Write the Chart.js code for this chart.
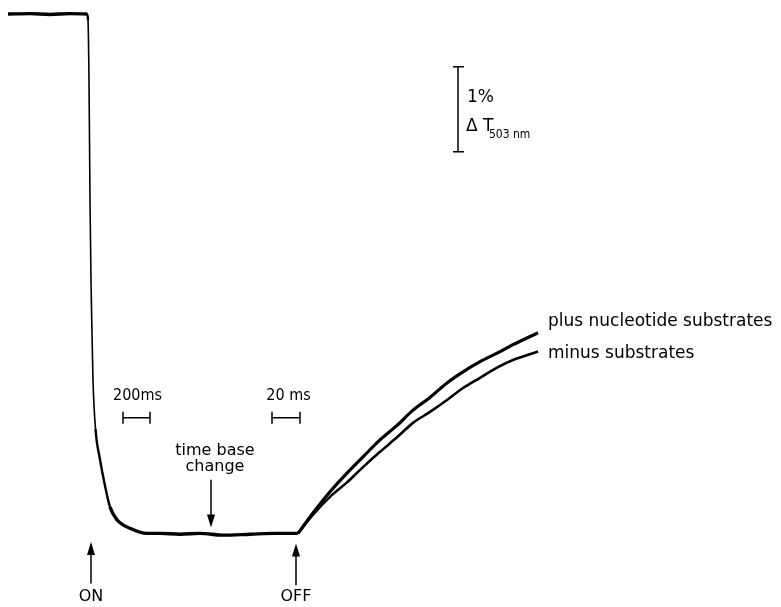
<!DOCTYPE html>
<html>
<head>
<meta charset="utf-8">
<script src="https://cdn.jsdelivr.net/npm/chart.js@4"></script>
<style>
  html, body { margin: 0; padding: 0; background: #fff; }
  #wrap { width: 781px; height: 607px; position: relative; }
</style>
</head>
<body>
<div id="wrap"><canvas id="chart" width="781" height="607"></canvas></div>
<script>
// x = chart position (divisions), y = change in transmission, % dT at 503 nm
const traceX = [0.8, 3.0, 5.0, 7.0, 8.7, 8.8, 8.9, 9.0, 9.1, 9.2, 9.3, 9.55, 10.0, 10.5, 11.0, 11.7, 13.0, 14.7, 16.0, 18.0, 20.0, 22.3, 25.0, 27.5, 29.8];
const traceY = [0.00, 0.005, -0.005, 0.005, 0.00, -0.07, -0.78, -2.19, -3.13, -3.75, -4.31, -4.88, -5.24, -5.55, -5.80, -5.95, -6.05, -6.11, -6.11, -6.12, -6.11, -6.13, -6.12, -6.11, -6.11];

const recoveryX = [29.8, 31.3, 33.0, 34.7, 36.3, 38.0, 39.7, 41.3, 43.0, 44.7, 46.3, 48.0, 49.7, 51.3, 53.8];
const plusY = [-6.11, -5.87, -5.62, -5.40, -5.21, -5.01, -4.84, -4.66, -4.51, -4.34, -4.21, -4.09, -3.99, -3.89, -3.75];
const minusY = [-6.11, -5.89, -5.68, -5.51, -5.33, -5.15, -4.98, -4.81, -4.68, -4.54, -4.40, -4.28, -4.16, -4.07, -3.97];

const seriesLabels = ["plus nucleotide substrates", "minus substrates"];

const toPoints = (xs, ys) => xs.map((x, i) => ({ x: x, y: ys[i] }));

const FONT = '"DejaVu Sans", sans-serif';
const FONT_NARROW = '"DejaVu Sans Condensed", "DejaVu Sans", sans-serif';

// annotations in data units
const notes = {
  scaleBar: { x: 45.8, y1: -0.62, y2: -1.62 },
  timeBars: [
    { x1: 12.3, x2: 15.0, y: -4.75, text: "200ms", tx: 13.75, ty: -4.49 },
    { x1: 27.2, x2: 30.0, y: -4.75, text: "20 ms", tx: 28.85, ty: -4.49 }
  ],
  arrowsUp: [
    { x: 9.1, yFrom: -6.70, yTo: -6.21, text: "ON" },
    { x: 29.6, yFrom: -6.72, yTo: -6.23, text: "OFF" }
  ],
  baseChange: { x: 21.1, yFrom: -5.48, yTo: -6.04, lines: ["time base", "change"], tx: 21.5, ty: [-5.14, -5.33] },
  labels: [
    { text: seriesLabels[0], x: 54.8, y: -3.62 },
    { text: seriesLabels[1], x: 54.8, y: -3.99 }
  ]
};

function arrow(ctx, x, yFrom, yTo) {
  const dir = yTo < yFrom ? -1 : 1;
  ctx.beginPath();
  ctx.moveTo(x, yFrom);
  ctx.lineTo(x, yTo - dir * 10);
  ctx.stroke();
  ctx.beginPath();
  ctx.moveTo(x, yTo);
  ctx.lineTo(x - 4, yTo - dir * 13);
  ctx.lineTo(x + 4, yTo - dir * 13);
  ctx.closePath();
  ctx.fill();
}

const annotate = {
  id: "annotate",
  afterDraw(chart) {
    const ctx = chart.ctx;
    const sx = chart.scales.x, sy = chart.scales.y;
    const px = v => sx.getPixelForValue(v);
    const py = v => sy.getPixelForValue(v);
    ctx.save();
    ctx.strokeStyle = "#000";
    ctx.fillStyle = "#000";
    ctx.lineWidth = 1.5;

    // 1% scale bar
    const sb = notes.scaleBar;
    ctx.beginPath();
    ctx.moveTo(px(sb.x), py(sb.y1)); ctx.lineTo(px(sb.x), py(sb.y2));
    ctx.moveTo(px(sb.x) - 5, py(sb.y1)); ctx.lineTo(px(sb.x) + 6, py(sb.y1));
    ctx.moveTo(px(sb.x) - 5, py(sb.y2)); ctx.lineTo(px(sb.x) + 6, py(sb.y2));
    ctx.stroke();
    ctx.textBaseline = "middle";
    ctx.textAlign = "left";
    ctx.font = "17px " + FONT;
    ctx.fillText("1%", px(sb.x) + 9, py(-0.98));
    ctx.fillText("\u0394 T", px(sb.x) + 8, py(-1.32));
    ctx.font = "12px " + FONT_NARROW;
    ctx.fillText("503 nm", px(sb.x) + 31, py(-1.42));

    // time base bars
    notes.timeBars.forEach(b => {
      const y = py(b.y);
      ctx.beginPath();
      ctx.moveTo(px(b.x1), y); ctx.lineTo(px(b.x2), y);
      ctx.moveTo(px(b.x1), y - 6); ctx.lineTo(px(b.x1), y + 6);
      ctx.moveTo(px(b.x2), y - 6); ctx.lineTo(px(b.x2), y + 6);
      ctx.stroke();
      ctx.font = "16px " + FONT_NARROW;
      ctx.textAlign = "center";
      ctx.fillText(b.text, px(b.tx), py(b.ty));
    });

    // ON / OFF
    notes.arrowsUp.forEach(a => {
      arrow(ctx, px(a.x), py(a.yFrom), py(a.yTo));
      ctx.font = "16px " + FONT;
      ctx.textAlign = "center";
      ctx.fillText(a.text, px(a.x), py(-6.86));
    });

    // time base change
    const bc = notes.baseChange;
    arrow(ctx, px(bc.x), py(bc.yFrom), py(bc.yTo));
    ctx.font = "16px " + FONT;
    ctx.textAlign = "center";
    bc.lines.forEach((t, i) => ctx.fillText(t, px(bc.tx), py(bc.ty[i])));

    // series labels
    ctx.textAlign = "left";
    ctx.font = "17px " + FONT;
    notes.labels.forEach(l => ctx.fillText(l.text, px(l.x), py(l.y)));

    ctx.restore();
  }
};

// thinner pen where the trace falls fast
const penWidth = c => {
  const dx = c.p1.parsed.x - c.p0.parsed.x;
  const slope = Math.abs(c.p1.parsed.y - c.p0.parsed.y) / dx;
  if (slope > 1.0) return 1.6;
  if (slope > 0.4) return 2.4;
  return undefined;
};

new Chart(document.getElementById("chart"), {
  type: "line",
  data: {
    datasets: [
      {
        label: "trace",
        data: toPoints(traceX, traceY),
        borderColor: "#000",
        borderWidth: 3.4,
        pointRadius: 0,
        cubicInterpolationMode: "monotone",
        segment: { borderWidth: penWidth }
      },
      {
        label: seriesLabels[0],
        data: toPoints(recoveryX, plusY),
        borderColor: "#000",
        borderWidth: 3.2,
        pointRadius: 0,
        cubicInterpolationMode: "monotone"
      },
      {
        label: seriesLabels[1],
        data: toPoints(recoveryX, minusY),
        borderColor: "#000",
        borderWidth: 2.6,
        pointRadius: 0,
        cubicInterpolationMode: "monotone"
      }
    ]
  },
  options: {
    responsive: false,
    animation: false,
    layout: { padding: 0 },
    scales: {
      x: { type: "linear", min: 0, max: 78.1, display: false },
      y: { type: "linear", min: -6.976, max: 0.165, display: false }
    },
    plugins: {
      legend: { display: false },
      tooltip: { enabled: false }
    }
  },
  plugins: [annotate]
});
</script>
</body>
</html>
